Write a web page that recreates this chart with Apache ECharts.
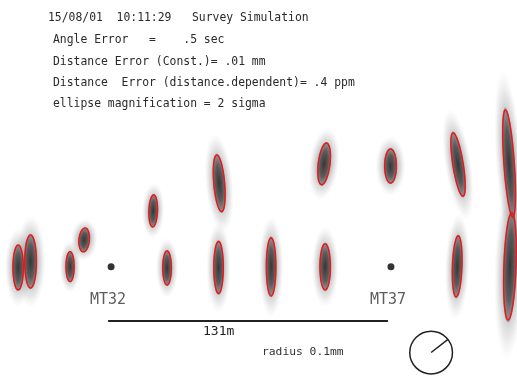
<!DOCTYPE html>
<html>
<head>
<meta charset="utf-8">
<script src="https://cdn.jsdelivr.net/npm/echarts@6/dist/echarts.min.js"></script>
<style>
  html, body { margin: 0; padding: 0; background: #fff; }
  #chart { width: 517px; height: 382px; }
</style>
</head>
<body>
<div id="chart"></div>
<script>
// survey points, metres from MT32
const pointX = [-43.5, -37.7, -19.2, -12.6, 19.7, 26.2, 50.6, 50.3, 74.9, 99.7, 100.2, 130.8, 162.4, 162.0, 186.3, 186.7]
const pointY = [-0.4, 2.4, 0.0, 12.5, 26.1, -0.6, 39.0, -0.4, -0.1, 48.1, -0.1, 47.1, 47.8, 0.1, 48.3, 0.1]
// 2 sigma error ellipses, mm
const semiMajor = [0.105, 0.124, 0.070, 0.056, 0.075, 0.080, 0.133, 0.122, 0.136, 0.098, 0.108, 0.080, 0.150, 0.143, 0.251, 0.251]
const semiMinor = [0.024, 0.027, 0.019, 0.024, 0.020, 0.020, 0.025, 0.022, 0.022, 0.027, 0.024, 0.027, 0.024, 0.022, 0.024, 0.028]
const axisAngle = [90, 90, 90, 85, 88, 90, 95, 90, 90, 83, 90, 90, 99, 88, 94, 88] // degrees from east

const stationNames = ['MT32', 'MT37']
const stationX = [0, 131]
const stationY = [0, 0]

const scaleBarLength = 131 // m
const radiusMm = 0.1

const headerLines = [
  '15/08/01  10:11:29   Survey Simulation',
  'Angle Error   =    .5 sec',
  'Distance Error (Const.)= .01 mm',
  'Distance  Error (distance.dependent)= .4 ppm',
  'ellipse magnification = 2 sigma'
]

const MAG = 100 // plot metres per mm of error

const ellipseData = pointX.map((x, i) => [x, pointY[i], semiMajor[i], semiMinor[i], axisAngle[i]])

function ellipsePoints(api, cx, cy, a, b, angDeg) {
  const c = api.coord([cx, cy])
  const ra = api.size([a * MAG, 0])[0]
  const rb = api.size([b * MAG, 0])[0]
  const t = angDeg * Math.PI / 180
  const pts = []
  for (let i = 0; i < 72; i++) {
    const s = i / 72 * Math.PI * 2
    const u = ra * Math.cos(s)
    const v = rb * Math.sin(s)
    pts.push([c[0] + u * Math.cos(t) - v * Math.sin(t), c[1] - (u * Math.sin(t) + v * Math.cos(t))])
  }
  return pts
}

// a vertical circle squashed into the ellipse, then turned
function cloudShape(api, k, kMinor, stops) {
  const c = api.coord([api.value(0), api.value(1)])
  const ra = api.size([api.value(2) * MAG, 0])[0]
  const rb = api.size([api.value(3) * MAG, 0])[0]
  return {
    type: 'circle',
    x: c[0],
    y: c[1],
    rotation: (api.value(4) - 90) * Math.PI / 180,
    scaleX: rb * kMinor / (ra * k),
    shape: { cx: 0, cy: 0, r: ra * k },
    style: { fill: { type: 'radial', x: 0.5, y: 0.5, r: 0.5, colorStops: stops } }
  }
}

const chart = echarts.init(document.getElementById('chart'), null, { renderer: 'canvas' })

const mono = "'DejaVu Sans Mono', 'Liberation Mono', monospace"

const graphics = headerLines.map((line, i) => ({
  type: 'text',
  left: i === 0 ? 48 : 53,
  top: [13, 35, 57, 78, 99][i],
  style: { text: line, font: '11.4px ' + mono, fill: '#2a2a2a' },
  silent: true
}))
graphics.push({
  type: 'text', left: 203, top: 325,
  style: { text: scaleBarLength + 'm', font: '13px ' + mono, fill: '#222' }
})
graphics.push({
  type: 'text', left: 262, top: 347,
  style: { text: 'radius ' + radiusMm + 'mm', font: '11.3px ' + mono, fill: '#333' }
})

chart.setOption({
  animation: false,
  grid: { left: 0, right: 0, top: 0, bottom: 0 },
  xAxis: { type: 'value', min: -52, max: 190, show: false },
  yAxis: { type: 'value', min: -54, max: 124.8, show: false },
  graphic: graphics,
  series: [
    {
      // outer scatter of the simulated points
      type: 'custom',
      data: ellipseData,
      renderItem(params, api) {
        return cloudShape(api, 1.75, 2.6, [
          { offset: 0, color: 'rgba(100,100,100,0.6)' },
          { offset: 0.5, color: 'rgba(130,130,130,0.45)' },
          { offset: 0.75, color: 'rgba(160,160,160,0.25)' },
          { offset: 1, color: 'rgba(200,200,200,0)' }
        ])
      }
    },
    {
      // dense core of the point clouds
      type: 'custom',
      data: ellipseData,
      renderItem(params, api) {
        return cloudShape(api, 1.05, 1.2, [
          { offset: 0, color: 'rgba(40,40,40,0.88)' },
          { offset: 0.6, color: 'rgba(65,65,65,0.78)' },
          { offset: 0.9, color: 'rgba(100,100,100,0.6)' },
          { offset: 1, color: 'rgba(120,120,120,0.4)' }
        ])
      }
    },
    {
      // error ellipses
      type: 'custom',
      data: ellipseData,
      renderItem(params, api) {
        return {
          type: 'polygon',
          shape: { points: ellipsePoints(api, api.value(0), api.value(1), api.value(2), api.value(3), api.value(4)) },
          style: { fill: 'none', stroke: '#e3191c', lineWidth: 1.5 }
        }
      }
    },
    {
      type: 'scatter',
      data: stationX.map((x, i) => [x, stationY[i], stationNames[i]]),
      symbolSize: 7,
      itemStyle: { color: '#000' },
      label: {
        show: true,
        position: 'bottom',
        distance: 22,
        offset: [-3, 0],
        formatter: p => p.value[2],
        fontFamily: mono,
        fontSize: 15,
        color: '#333'
      }
    },
    {
      // scale bar
      type: 'line',
      data: [[-1.4, -25.4], [-1.4 + scaleBarLength, -25.4]],
      symbol: 'none',
      lineStyle: { color: '#222', width: 2 }
    },
    {
      // radius reference circle
      type: 'custom',
      data: [[149.8, -40.2, radiusMm]],
      renderItem(params, api) {
        const c = api.coord([api.value(0), api.value(1)])
        const r = api.size([api.value(2) * MAG, 0])[0]
        const t = 38 * Math.PI / 180
        return {
          type: 'group',
          children: [
            { type: 'circle', shape: { cx: c[0], cy: c[1], r: r }, style: { fill: 'none', stroke: '#222', lineWidth: 1.5 } },
            { type: 'line', shape: { x1: c[0], y1: c[1], x2: c[0] + r * Math.cos(t), y2: c[1] - r * Math.sin(t) }, style: { stroke: '#222', lineWidth: 1.5 } }
          ]
        }
      }
    }
  ]
})
</script>
</body>
</html>
